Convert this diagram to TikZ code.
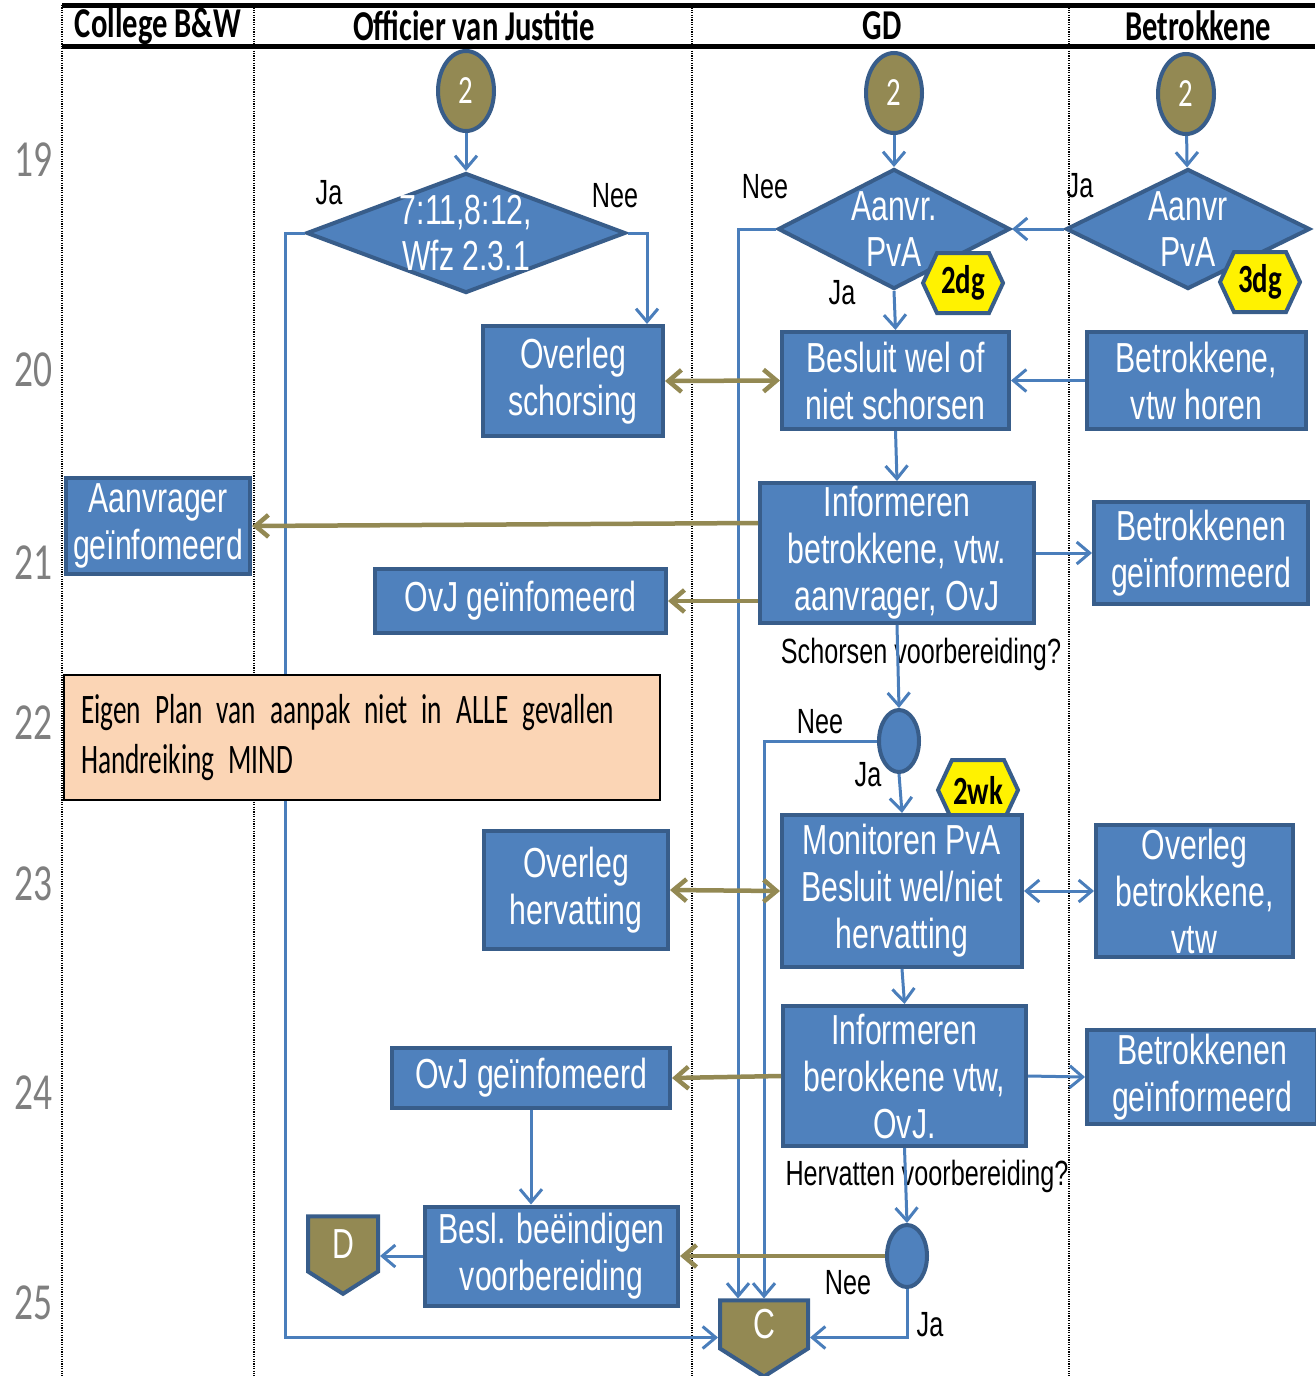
\documentclass[tikz,border=0pt]{standalone}
\usepackage{fontspec}
\setmainfont{Liberation Sans}
\newfontfamily\boxfont[FakeStretch=0.72]{Liberation Sans}
\newfontfamily\calfont[FakeStretch=0.72]{Carlito}
\newfontfamily\notefont[FakeStretch=0.65]{Carlito}
\usetikzlibrary{arrows.meta,shapes.geometric,shapes.symbols}
\definecolor{boxfill}{HTML}{4F81BD}
\definecolor{boxline}{HTML}{385D8A}
\definecolor{olive}{HTML}{938953}
\definecolor{flowblue}{HTML}{4A7EBB}
\definecolor{notefill}{HTML}{FBD5B5}
\definecolor{numgray}{HTML}{7F7F7F}

\begin{document}
\begin{tikzpicture}[
    x=1pt, y=-1pt,
    wh/.style 2 args={minimum width=#1pt, minimum height=#2pt},
    lane/.style={draw=black, line width=2.5pt, dash pattern=on 1.2pt off 1.2pt},
    rule/.style={draw=black, line width=5pt},
    head/.style={font=\calfont\bfseries\fontsize{42.5}{42}\selectfont},
    rownum/.style={text=numgray, font=\calfont\fontsize{52}{52}\selectfont},
    procbox/.style={rectangle, fill=boxfill, draw=boxline, line width=4pt,
        text=white, align=center, inner sep=0pt,
        font=\boxfont\fontsize{42}{47}\selectfont},
    decision/.style={diamond, fill=boxfill, draw=boxline, line width=4pt,
        text=white, align=center, inner sep=-30pt, minimum height=120pt,
        font=\boxfont\fontsize{42}{46}\selectfont},
    choice/.style={ellipse, fill=boxfill, draw=boxline, line width=4pt,
        inner sep=0pt, wh={40}{62}},
    connector/.style={ellipse, fill=olive, draw=boxline, line width=4pt,
        text=white, inner sep=0pt, wh={56}{80},
        font=\calfont\fontsize{40}{40}\selectfont},
    offpage/.style={signal, signal to=south, signal pointer angle=115,
        fill=olive, draw=boxline, line width=4pt, text=white, inner sep=0pt,
        font=\boxfont\fontsize{42}{42}\selectfont},
    badge/.style={signal, signal to=west and east, signal pointer angle=130,
        fill=yellow, draw=boxline, line width=4pt, inner sep=0pt, wh={80}{60},
        font=\calfont\bfseries\fontsize{40}{40}\selectfont},
    note/.style={rectangle, fill=notefill, draw=black, line width=1.5pt,
        align=left, text width=562pt, inner xsep=17pt, inner ysep=0pt,
        wh={596}{125}, font=\notefont\fontsize{42}{50}\selectfont},
    lbl/.style={font=\boxfont\fontsize{35}{38}\selectfont, inner sep=0pt},
    flow/.style={-{Straight Barb[length=13pt, width=22pt]}, draw=flowblue, line width=3pt},
    both/.style={{Straight Barb[length=13pt, width=22pt]}-{Straight Barb[length=13pt, width=22pt]}},
    info/.style={-{Straight Barb[length=13pt, width=22pt]}, draw=olive, line width=4.5pt}
]
    \useasboundingbox (0,0) rectangle (1315,1376);

    % swimlanes
    \foreach \lx in {62,254,692,1069}
        \draw[lane] (\lx,5) -- (\lx,1376);
    \draw[rule] (62,5) -- (1315,5);
    \draw[rule] (62,46) -- (1315,46);
    \node[head] (hcol) at (158,26) {College B\&W};
    \node[head] (hovj) at (474,26) {Officier van Justitie};
    \node[head] (hgd) at (882,26) {GD};
    \node[head] (hbet) at (1198,26) {Betrokkene};

    \node[rownum] (r19) at (33,160) {19};
    \node[rownum] (r20) at (33,370) {20};
    \node[rownum] (r21) at (33,563) {21};
    \node[rownum] (r22) at (33,723) {22};
    \node[rownum] (r23) at (33,884) {23};
    \node[rownum] (r24) at (33,1093) {24};
    \node[rownum] (r25) at (33,1303) {25};

    % schorsen
    \node[connector] (startovj) at (466,91) {2};
    \node[connector] (startgd) at (894,93) {2};
    \node[connector] (startbet) at (1186,94) {2};
    \node[decision, minimum width=319pt] (chkovj) at (466,233) {7:11,8:12,\\Wfz 2.3.1};
    \node[decision, minimum width=232pt] (pvagd) at (894,229) {Aanvr.\\PvA};
    \node[decision, minimum width=244pt] (pvabet) at (1188,229) {Aanvr\\PvA};
    \node[badge] (dg2) at (963,283) {2dg};
    \node[badge] (dg3) at (1260,282) {3dg};
    \node[procbox, wh={180}{110}] (ovs) at (573,381) {Overleg\\schorsing};
    \node[procbox, wh={227}{97}] (besl) at (895.5,380.5) {Besluit wel of\\niet schorsen};
    \node[procbox, wh={219}{97}] (horen) at (1196.5,380.5) {Betrokkene,\\vtw horen};
    \node[procbox, wh={184}{96}] (aanvr) at (158,526) {Aanvrager\\geïnfomeerd};
    \node[procbox, wh={274}{140}] (inf1) at (897,553) {Informeren\\betrokkene, vtw.\\aanvrager, OvJ};
    \node[procbox, wh={214}{102}] (betinf1) at (1201,553) {Betrokkenen\\geïnformeerd};
    \node[procbox, wh={291}{64}] (ovjinf1) at (520.5,601) {OvJ geïnfomeerd};
    \node[choice] (dec1) at (899,741) {};

    % hervatten
    \node[badge] (wk2) at (978,790) {2wk};
    \node[procbox, wh={184}{118}] (ovh) at (576,890) {Overleg\\hervatting};
    \node[procbox, wh={240}{152}] (monit) at (902,891) {Monitoren PvA\\Besluit wel/niet\\hervatting};
    \node[procbox, wh={197}{132}] (ovb) at (1194.5,891) {Overleg\\betrokkene,\\vtw};
    \node[procbox, wh={243}{140}] (inf2) at (904.5,1076) {Informeren\\berokkene vtw,\\OvJ.};
    \node[procbox, wh={278}{60}] (ovjinf2) at (531,1078) {OvJ geïnfomeerd};
    \node[procbox, wh={230}{94}] (betinf2) at (1202,1077) {Betrokkenen\\geïnformeerd};
    \node[choice] (dec2) at (907,1256) {};
    \node[procbox, wh={253}{99}] (besleind) at (551.5,1256) {Besl. beëindigen\\voorbereiding};
    \node[offpage, wh={70}{62}] (offd) at (343,1244) {D};
    \node[offpage, wh={88}{55}] (offc) at (764,1324.5) {C};

    \node[lbl] (jaovj) at (329,193) {Ja};
    \node[lbl] (neeovj) at (615,196) {Nee};
    \node[lbl] (neegd) at (765,187) {Nee};
    \node[lbl] (jagd) at (842,293) {Ja};
    \node[lbl] (jabet) at (1080,186) {Ja};
    \node[lbl] (qschors) at (921,654) {Schorsen voorbereiding?};
    \node[lbl] (nee1) at (820,722) {Nee};
    \node[lbl] (ja1) at (868,775) {Ja};
    \node[lbl] (qherv) at (927,1176) {Hervatten voorbereiding?};
    \node[lbl] (nee2) at (848,1283) {Nee};
    \node[lbl] (ja2) at (930,1325) {Ja};

    \draw[flow] (startovj) -- (chkovj);
    \draw[flow] (startgd) -- (pvagd);
    \draw[flow] (startbet) -- (pvabet);
    \draw[flow] (chkovj.west) -- ++(-19,0) |- ([yshift=-13pt]offc.west);
    \draw[flow] (chkovj.east) -| ([xshift=-18pt]ovs.north east);
    \draw[flow] (pvagd.west) -| ([xshift=-26pt]offc.north);
    \draw[flow] (pvagd.south) -- (besl.north);
    \draw[flow] (pvabet.west) -- (pvagd.east);
    \draw[info, both] (ovs.east) -- (besl.west);
    \draw[flow] (horen.west) -- (besl.east);
    \draw[flow] (besl.south) -- (inf1.north);
    \draw[info] ([yshift=30pt]inf1.west) -- (aanvr.east);
    \draw[info] ([yshift=-48pt]inf1.west) -- (ovjinf1.east);
    \draw[flow] (inf1.east) -- (betinf1.west);
    \draw[flow] (inf1.south) -- (dec1.north);
    \draw[flow] (dec1.west) -| (offc.north);
    \draw[flow] (dec1.south) -- (monit.north);
    \draw[info, both] (ovh.east) -- (monit.west);
    \draw[flow, both] (monit.east) -- (ovb.west);
    \draw[flow] (monit.south) -- (inf2.north);
    \draw[info] (inf2.west) -- (ovjinf2.east);
    \draw[flow] (inf2.east) -- (betinf2.west);
    \draw[flow] (inf2.south) -- (dec2.north);
    \draw[flow] (ovjinf2.south) -- (ovjinf2.south |- besleind.north);
    \draw[info] (dec2.west) -- (besleind.east);
    \draw[flow] (besleind.west) -- (besleind.west -| offd.east);
    \draw[flow] (dec2.south) |- ([yshift=-13pt]offc.east);

    \node[note] (mind) at (362,737.5) {Eigen Plan van aanpak niet in ALLE gevallen\\Handreiking MIND};
\end{tikzpicture}
\end{document}
